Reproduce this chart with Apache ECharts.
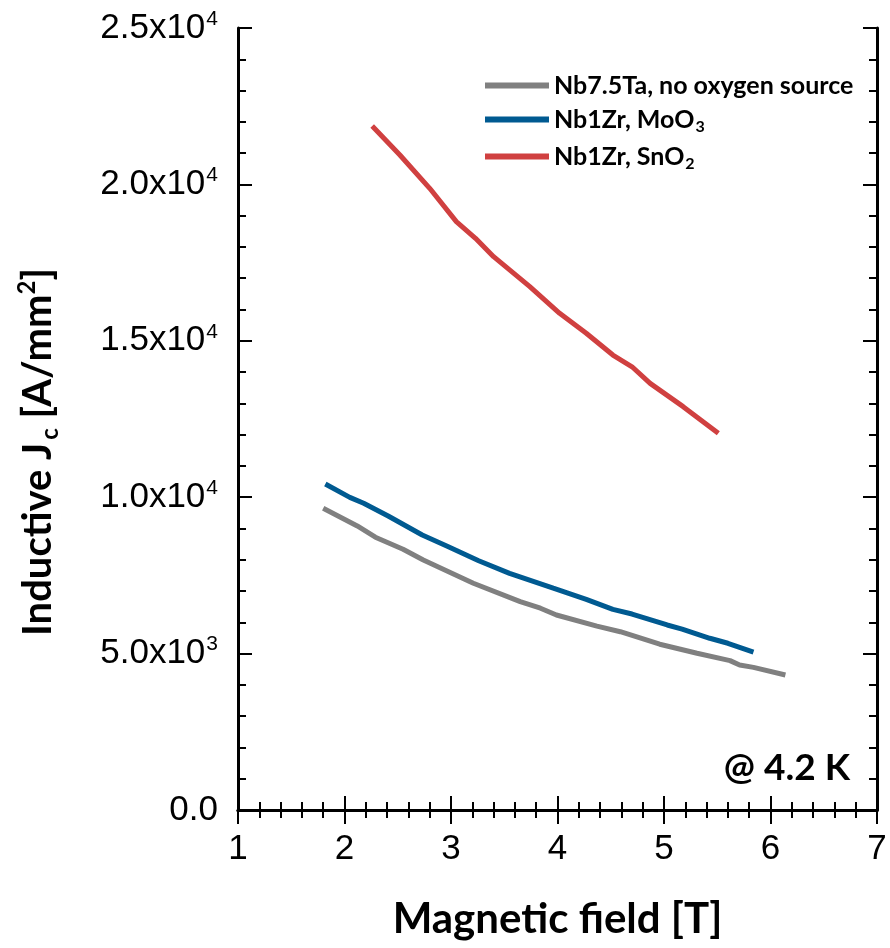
<!DOCTYPE html>
<html>
<head>
<meta charset="utf-8">
<script src="https://cdn.jsdelivr.net/npm/echarts@6/dist/echarts.min.js"></script>
<style>
  html, body { margin: 0; padding: 0; background: #fff; }
  #chart { width: 890px; height: 948px; }
</style>
</head>
<body>
<div id="chart"></div>
<script>
// Magnetic field (T) and inductive critical current density (A/mm^2) at 4.2 K
const fieldTa = [1.80, 2.12, 2.29, 2.55, 2.74, 3.21, 3.65, 3.84, 3.99, 4.37, 4.59, 4.96, 5.31, 5.62, 5.71, 5.84, 6.14];
const jcTa    = [9645, 9080, 8720, 8335, 7990, 7250, 6660, 6450, 6235, 5880, 5700, 5300, 5010, 4775, 4635, 4560, 4315];

const fieldMo = [1.82, 2.05, 2.18, 2.41, 2.73, 2.96, 3.26, 3.55, 3.96, 4.27, 4.52, 4.70, 5.03, 5.17, 5.43, 5.60, 5.84];
const jcMo    = [10420, 9995, 9805, 9400, 8790, 8440, 7970, 7565, 7090, 6735, 6415, 6265, 5915, 5785, 5490, 5330, 5050];

const fieldSn = [2.26, 2.52, 2.80, 3.05, 3.23, 3.40, 3.74, 4.02, 4.27, 4.52, 4.70, 4.87, 5.18, 5.51];
const jcSn    = [21865, 20940, 19875, 18810, 18275, 17690, 16730, 15880, 15240, 14545, 14170, 13640, 12895, 12045];

const seriesNames = ['Nb7.5Ta, no oxygen source', 'Nb1Zr, MoO3', 'Nb1Zr, SnO2'];
const seriesColors = ['#808080', '#005a91', '#d04040'];

const xTicks = [1, 2, 3, 4, 5, 6, 7];
const yTicks = [0, 5000, 10000, 15000, 20000, 25000];

function pairs(xs, ys) { return xs.map((x, i) => [x, ys[i]]); }

// "2.5x10^4" style tick labels
function sciLabel(v) {
  if (v === 0) return '{m|0.0}';
  const e = Math.floor(Math.log10(v));
  const m = v / Math.pow(10, e);
  return '{m|' + m.toFixed(1) + 'x10}{e|' + e + '}';
}

// legend text with chemical subscripts (trailing digit after an oxide formula)
function legendLabel(name) {
  const m = name.match(/^(.*O)(\d)$/);
  if (m) return '{t|' + m[1] + '}{s|' + m[2] + '}';
  return '{t|' + name + '}';
}

const chart = echarts.init(document.getElementById('chart'), null, { renderer: 'canvas' });

const axisLine = { show: true, lineStyle: { color: '#000', width: 3 } };
const axisTick = { show: true, inside: true, length: 14, lineStyle: { color: '#000', width: 2 } };
const minorTick = { show: true, splitNumber: 5, length: 8, lineStyle: { color: '#000', width: 2 } };

const labelFont = '"Liberation Sans", Arial, sans-serif';
const boldFont = 'Lato, "Open Sans", sans-serif';

chart.setOption({
  backgroundColor: '#fff',
  animation: false,
  grid: { left: 238, right: 13, top: 28, bottom: 138, containLabel: false },
  legend: {
    orient: 'vertical',
    left: 480,
    top: 68,
    icon: 'rect',
    itemWidth: 64,
    itemHeight: 6,
    itemGap: 9,
    data: seriesNames,
    formatter: legendLabel,
    textStyle: {
      rich: {
        t: { fontFamily: boldFont, fontWeight: 'bold', fontSize: 25, color: '#000' },
        s: { fontFamily: boldFont, fontWeight: 'bold', fontSize: 16, color: '#000', verticalAlign: 'bottom', padding: [15, 0, 0, 1] }
      }
    }
  },
  xAxis: [
    {
      type: 'value', position: 'bottom', min: 1, max: 7, interval: 1,
      axisLine, axisTick, minorTick, splitLine: { show: false }, minorSplitLine: { show: false },
      axisLabel: { show: true, margin: 22, fontFamily: labelFont, fontSize: 35, color: '#000',
        formatter: v => xTicks.includes(v) ? String(v) : '' },
      name: 'Magnetic field [T]', nameLocation: 'middle', nameGap: 88,
      nameTextStyle: { fontFamily: boldFont, fontWeight: 'bold', fontSize: 42, color: '#000' }
    },
    {
      type: 'value', position: 'top', min: 1, max: 7, interval: 1,
      axisLine, axisTick, minorTick, splitLine: { show: false }, axisLabel: { show: false }
    }
  ],
  yAxis: [
    {
      type: 'value', position: 'left', min: 0, max: 25000, interval: 5000,
      axisLine, axisTick, minorTick, splitLine: { show: false }, minorSplitLine: { show: false },
      axisLabel: {
        show: true, margin: 20, color: '#000',
        formatter: v => yTicks.includes(v) ? sciLabel(v) : '',
        rich: {
          m: { fontFamily: labelFont, fontSize: 35, color: '#000' },
          e: { fontFamily: labelFont, fontSize: 21, color: '#000', verticalAlign: 'top', padding: [0, 0, 18, 1] }
        }
      },
      name: '{a|Inductive J}{s|c}{a| [A/mm}{p|2}{a|]}',
      nameLocation: 'middle', nameGap: 176, nameRotate: 90,
      nameTextStyle: {
        padding: [0, 66, 0, 0],
        rich: {
          a: { fontFamily: boldFont, fontWeight: 'bold', fontSize: 40, color: '#000' },
          s: { fontFamily: boldFont, fontWeight: 'bold', fontSize: 24, color: '#000', padding: [24, 0, 0, 3] },
          p: { fontFamily: boldFont, fontWeight: 'bold', fontSize: 24, color: '#000', padding: [0, 0, 22, 0] }
        }
      }
    },
    {
      type: 'value', position: 'right', min: 0, max: 25000, interval: 5000,
      axisLine, axisTick, minorTick, splitLine: { show: false }, axisLabel: { show: false }
    }
  ],
  graphic: [
    {
      type: 'text', right: 40, top: 750,
      style: { text: '@ 4.2 K', fontFamily: boldFont, fontWeight: 'bold', fontSize: 37, fill: '#000' }
    }
  ],
  series: [
    { name: seriesNames[0], type: 'line', data: pairs(fieldTa, jcTa), symbol: 'none', color: seriesColors[0],
      lineStyle: { width: 5, color: seriesColors[0] }, z: 3 },
    { name: seriesNames[1], type: 'line', data: pairs(fieldMo, jcMo), symbol: 'none', color: seriesColors[1],
      lineStyle: { width: 5, color: seriesColors[1] }, z: 3 },
    { name: seriesNames[2], type: 'line', data: pairs(fieldSn, jcSn), symbol: 'none', color: seriesColors[2],
      lineStyle: { width: 5, color: seriesColors[2] }, z: 3 }
  ]
});
</script>
</body>
</html>
